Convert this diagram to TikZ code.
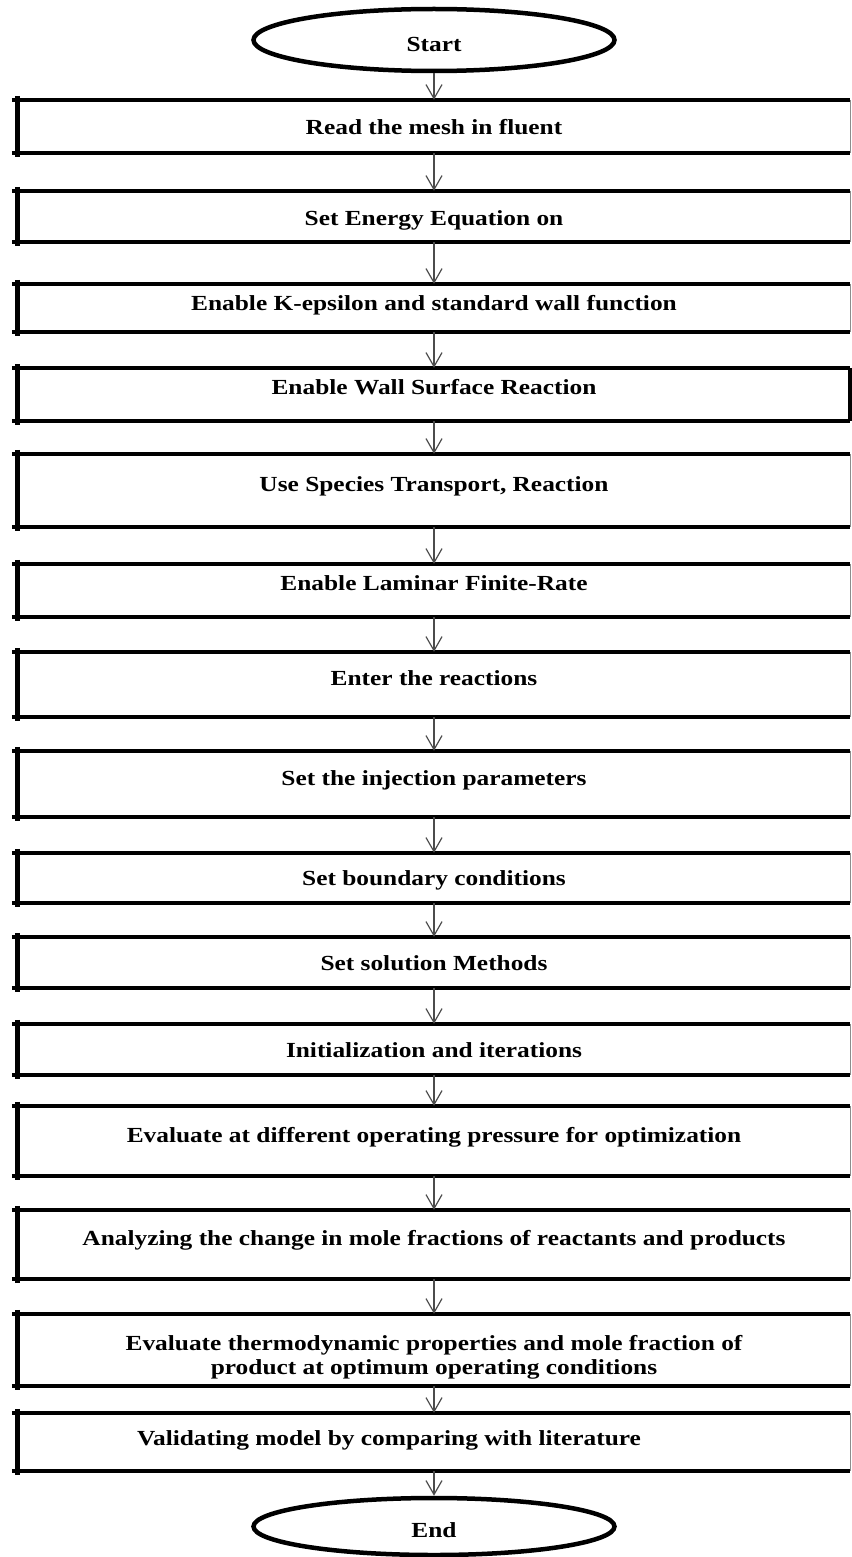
\documentclass[tikz,border=0pt]{standalone}
\usepackage{fontspec}
\setmainfont{Liberation Serif}[FakeStretch=1.18]
\usetikzlibrary{arrows.meta,shapes.geometric}

\begin{document}
\begin{tikzpicture}[x=1pt, y=-1pt]
	\useasboundingbox (0,0) rectangle (851,1557);
	\begin{scope}[every node/.style = {font = \bfseries\fontsize{21.5}{24}\selectfont},
		terminal/.style = {ellipse, draw, line width = 4.5pt, minimum width = 361pt,
			inner sep = 0pt, text depth = 0pt},
		stepbox/.style = {rectangle, anchor = base, minimum width = 832pt,
			inner ysep = 0pt, align = center}]
		\node [terminal, minimum height = 62pt, text height = 24pt] (start) at (434,40) {Start};
		\node [stepbox, text height = 35pt, text depth = 18pt] (s1) at (434,135) {Read the mesh in fluent};
		\node [stepbox, text height = 34pt, text depth = 17pt] (s2) at (434,225) {Set Energy Equation on};
		\node [stepbox, text height = 26pt, text depth = 22pt] (s3) at (434,310) {Enable K-epsilon and standard wall function};
		\node [stepbox, text height = 26pt, text depth = 27pt] (s4) at (434,394) {Enable Wall Surface Reaction};
		\node [stepbox, text height = 37pt, text depth = 36pt] (s5) at (434,491) {Use Species Transport, Reaction};
		\node [stepbox, text height = 26pt, text depth = 27pt] (s6) at (434,590) {Enable Laminar Finite-Rate};
		\node [stepbox, text height = 33pt, text depth = 32pt] (s7) at (434,685) {Enter the reactions};
		\node [stepbox, text height = 34pt, text depth = 32pt] (s8) at (434,785) {Set the injection parameters};
		\node [stepbox, text height = 32pt, text depth = 18pt] (s9) at (434,885) {Set boundary conditions};
		\node [stepbox, text height = 33pt, text depth = 18pt] (s10) at (434,970) {Set solution Methods};
		\node [stepbox, text height = 33pt, text depth = 18pt] (s11) at (434,1057) {Initialization and iterations};
		\node [stepbox, text height = 36pt, text depth = 34pt] (s12) at (434,1142) {Evaluate at different operating pressure for optimization};
		\node [stepbox, text height = 35pt, text depth = 34pt] (s13) at (434,1245) {Analyzing the change in mole fractions of reactants and products};
		\node [stepbox, text height = 60pt, text depth = 12pt] (s14) at (434,1374) {Evaluate thermodynamic properties and mole fraction of\\product at optimum operating conditions};
		\node [stepbox, text height = 32pt, text depth = 26pt] (s15) at (434,1445) {Validating model by comparing with literature\kern90pt};
		\node [terminal, minimum height = 57pt, text height = 21pt] (end) at (434,1526.5) {End};
	\end{scope}
	% box frames: heavy top, bottom and left, thin right
	\begin{scope}[line width = 4pt]
		\foreach \i in {1,...,15} {
			\draw ([xshift=-6pt]s\i.north west) -- (s\i.north east);
			\draw ([xshift=-6pt]s\i.south west) -- (s\i.south east);
			\draw [line width = 5pt] ([yshift=4pt]s\i.north west) -- ([yshift=-4pt]s\i.south west);
			\draw [line width = 1pt, black!45] (s\i.north east) -- (s\i.south east);
		}
		\draw (s4.north east) -- (s4.south east);
	\end{scope}
	\begin{scope}[>={Straight Barb[length=14pt, width=16pt]},
			every edge/.style={draw=black!70, line width=1.2pt}]
		\path [->] (start) edge (s1);
		\foreach \i [count=\j from 2] in {1,...,14}
			\path [->] (s\i) edge (s\j);
		\path [->] (s15) edge (end);
	\end{scope}
\end{tikzpicture}
\end{document}
